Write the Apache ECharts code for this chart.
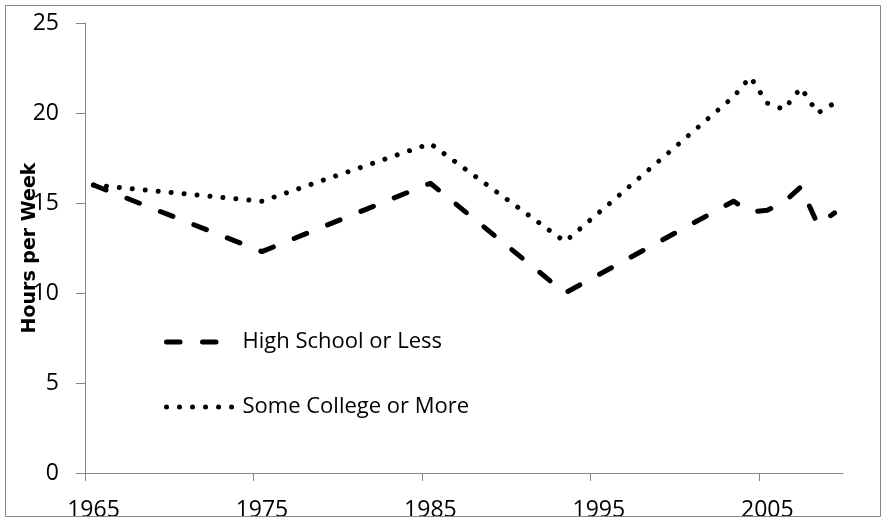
<!DOCTYPE html>
<html>
<head>
<meta charset="utf-8">
<script src="https://cdn.jsdelivr.net/npm/echarts@6/dist/echarts.min.js"></script>
<style>
  html, body { margin: 0; padding: 0; background: #fff; }
  #chart { width: 887px; height: 519px; }
</style>
</head>
<body>
<div id="chart"></div>
<script>
// Survey years; each value is plotted at mid-year.
const surveyYears = [1965, 1975, 1985, 1993, 2003, 2004, 2005, 2006, 2007, 2008, 2009];
const highSchoolOrLess = [16.0, 12.3, 16.1, 10.0, 15.1, 14.5, 14.6, 15.05, 15.9, 13.8, 14.45];
const someCollegeOrMore = [16.0, 15.1, 18.3, 12.85, 20.9, 22.0, 20.55, 20.2, 21.4, 20.0, 20.55];
const xTickYears = [1965, 1975, 1985, 1995, 2005];
const yTickValues = [0, 5, 10, 15, 20, 25];
const seriesNames = ['High School or Less', 'Some College or More'];

const toPoints = vals => vals.map((v, i) => [surveyYears[i] + 0.5, v]);

const axisGrey = '#868686';
const labelFont = '"Open Sans", "Liberation Sans", sans-serif';
const dashPattern = [13.5, 22.5];
const dotPattern = [0.01, 13];

const chart = echarts.init(document.getElementById('chart'), null, { renderer: 'canvas' });

// Legend entries show only the line pattern (the default marker is hidden).
const legendEntry = (name, top, pattern) => ({
  data: [name],
  left: 164,
  top: top,
  padding: 0,
  itemWidth: 71,
  itemHeight: 22,
  selectedMode: false,
  textStyle: { color: '#000', fontFamily: labelFont, fontSize: 22 },
  itemStyle: { opacity: 0, borderWidth: 0 },
  lineStyle: { width: 5, type: pattern, cap: 'round', color: '#000', opacity: 1 }
});

chart.setOption({
  animation: false,
  backgroundColor: '#ffffff',
  grid: { left: 85, right: 44, top: 23, bottom: 46, containLabel: false, outerBoundsMode: 'none' },
  xAxis: {
    type: 'value',
    min: 1965,
    max: 2010,
    interval: 10,
    axisLine: { show: true, lineStyle: { color: axisGrey, width: 1 } },
    axisTick: { show: true, length: 8, customValues: xTickYears, lineStyle: { color: axisGrey } },
    axisLabel: {
      customValues: xTickYears,
      margin: 26,
      color: '#000',
      fontFamily: labelFont,
      fontSize: 23,
      padding: [0, 0, 0, 17],
      formatter: v => String(v)
    },
    splitLine: { show: false }
  },
  yAxis: {
    type: 'value',
    min: yTickValues[0],
    max: yTickValues[yTickValues.length - 1],
    interval: 5,
    name: 'Hours per Week',
    nameLocation: 'middle',
    nameGap: 45,
    nameMoveOverlap: false,
    nameTextStyle: {
      fontFamily: '"DejaVu Sans", Verdana, sans-serif',
      fontWeight: 'bold',
      fontSize: 19,
      color: '#000'
    },
    axisLine: { show: true, lineStyle: { color: axisGrey, width: 1 } },
    axisTick: { show: true, length: 9, lineStyle: { color: axisGrey } },
    axisLabel: { margin: 26, color: '#000', fontFamily: labelFont, fontSize: 23 },
    splitLine: { show: false }
  },
  legend: [
    legendEntry(seriesNames[0], 331, dashPattern),
    legendEntry(seriesNames[1], 396, dotPattern)
  ],
  series: [
    {
      name: seriesNames[0],
      type: 'line',
      data: toPoints(highSchoolOrLess),
      symbol: 'none',
      color: '#000',
      lineStyle: { color: '#000', width: 5, type: dashPattern, cap: 'round', join: 'round' },
      z: 3
    },
    {
      name: seriesNames[1],
      type: 'line',
      data: toPoints(someCollegeOrMore),
      symbol: 'none',
      color: '#000',
      lineStyle: { color: '#000', width: 5, type: dotPattern, cap: 'round', join: 'round' },
      z: 3
    }
  ],
  graphic: [
    {
      type: 'rect',
      z: 100,
      silent: true,
      shape: { x: 5.5, y: 5.5, width: 875, height: 511 },
      style: { fill: null, stroke: axisGrey, lineWidth: 1 }
    }
  ]
});
</script>
</body>
</html>
